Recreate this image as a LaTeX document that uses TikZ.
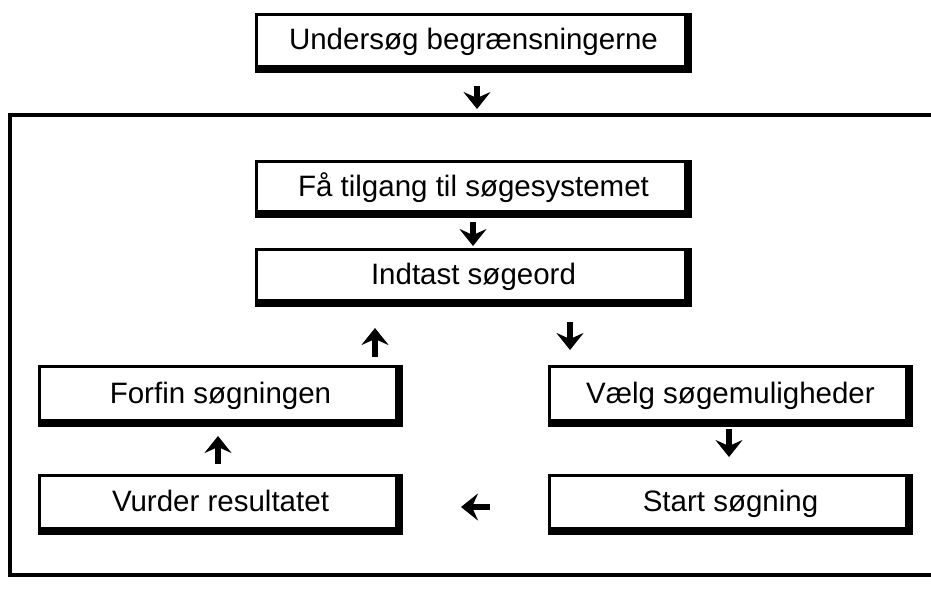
\documentclass[tikz,border=0pt]{standalone}
\usepackage{fontspec}
\setmainfont{Liberation Sans}
\usetikzlibrary{arrows.meta}
\begin{document}
\begin{tikzpicture}[x=1pt,y=-1pt,
  box/.style={fill=black, minimum width=#1, minimum height=60pt, inner sep=0pt,
    font=\fontsize{29.5}{35}\selectfont, text height=21pt, text depth=7pt,
    path picture={\fill[white] ([xshift=3pt,yshift=-3pt]path picture bounding box.north west)
      rectangle ([xshift=-8pt,yshift=8pt]path picture bounding box.south east);}},
  arr/.style={line width=6pt, -{Stealth[length=17pt 0 0,width=27pt 0 0,inset=6pt 0]}},
  frame/.style={line width=4pt}]
\useasboundingbox (0,0) rectangle (931,614);
% outer frame (right edge lies outside the picture)
\draw[frame] (10,115) rectangle (960,575);
% boxes
\node[box=437pt] (A) at (473.5,42.5) {Undersøg begrænsningerne};
\node[box=437pt, minimum height=58pt] (B) at (473.5,189) {Få tilgang til søgesystemet};
\node[box=437pt, minimum height=59pt] (C) at (473.5,277.5) {Indtast søgeord};
\node[box=365pt, minimum height=62pt] (D) at (220.5,396) {Forfin søgningen};
\node[box=365pt, minimum height=61pt] (E) at (220.5,504.5) {Vurder resultatet};
\node[box=365pt, minimum height=62pt] (F) at (730.5,396) {Vælg søgemuligheder};
\node[box=365pt, minimum height=61pt] (G) at (730.5,504.5) {Start søgning};
% arrow end points
\coordinate (a1) at (477,86);  \coordinate (a2) at (477,109);
\coordinate (b1) at (473,222); \coordinate (b2) at (473,246);
\coordinate (c1) at (570,322); \coordinate (c2) at (570,350);
\coordinate (d1) at (375,357); \coordinate (d2) at (375,328);
\coordinate (f1) at (729,429); \coordinate (f2) at (729,457);
\coordinate (g1) at (490,507); \coordinate (g2) at (461,507);
\coordinate (e1) at (218,464); \coordinate (e2) at (218,436);
\draw[arr] (a1) -- (a2);
\draw[arr] (b1) -- (b2);
\draw[arr] (c1) -- (c2);
\draw[arr] (d1) -- (d2);
\draw[arr] (f1) -- (f2);
\draw[arr] (g1) -- (g2);
\draw[arr] (e1) -- (e2);
\end{tikzpicture}
\end{document}
